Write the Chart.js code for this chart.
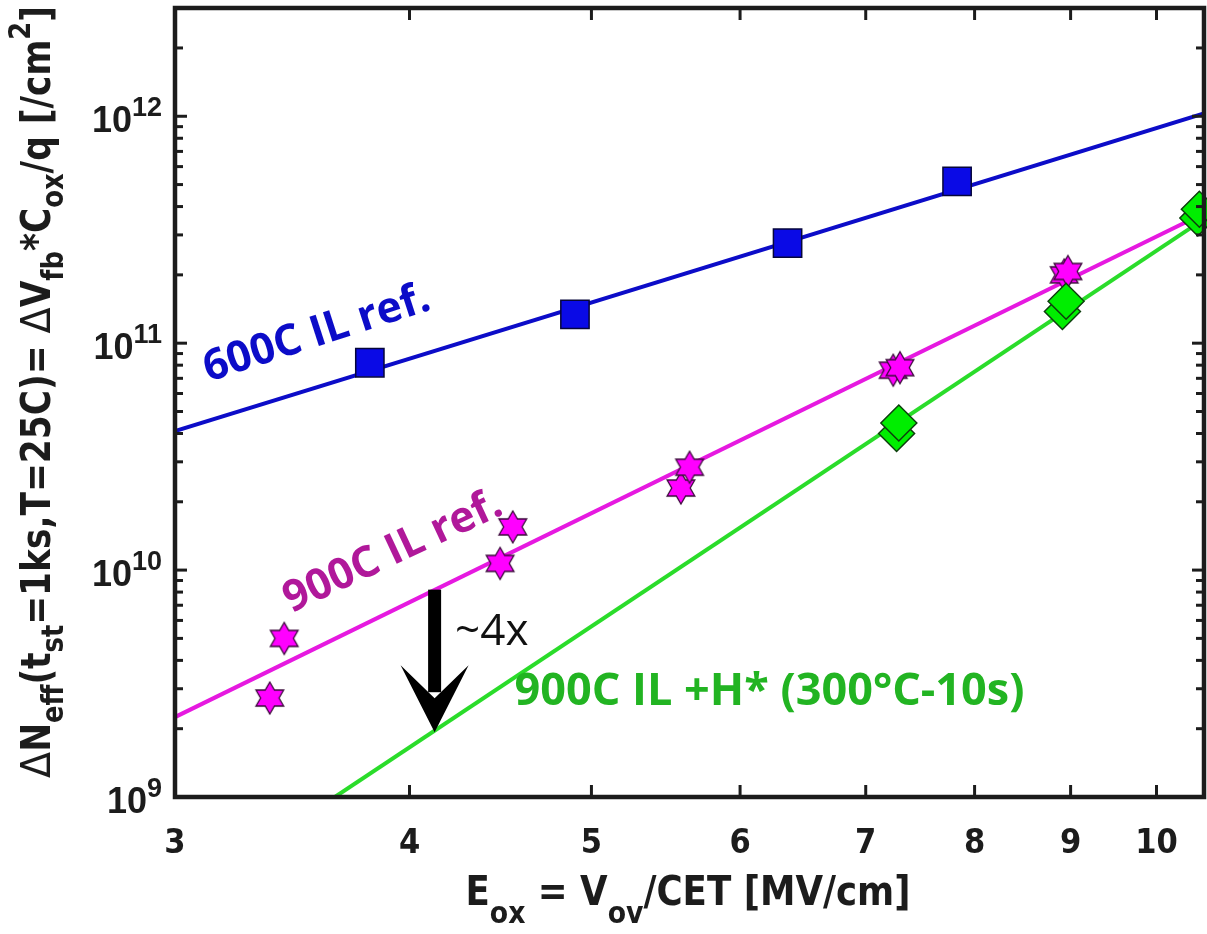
<!DOCTYPE html>
<html>
<head>
<meta charset="utf-8">
<script src="https://cdn.jsdelivr.net/npm/chart.js@4.4.1/dist/chart.umd.min.js"></script>
<style>
  html, body { margin: 0; padding: 0; background: #fff; overflow: hidden; }
  canvas { display: block; }
</style>
</head>
<body>
<canvas id="grafica" width="1207" height="934"></canvas>
<script>
// ejes
const xMin = 3, xMax = 10.6;
const yMin = 1e9, yMax = 3e12;
const xTicks = [3, 4, 5, 6, 7, 8, 9, 10];
const yDecadas = [1e9, 1e10, 1e11, 1e12];
const yExponentes = ["9", "10", "11", "12"];

// 600C IL ref. (cuadrados)
const ref600X = [3.81, 4.90, 6.36, 7.83];
const ref600Y = [8.2e10, 1.34e11, 2.76e11, 5.17e11];

// 900C IL ref. (estrellas)
const ref900X = [3.37, 3.43, 4.47, 4.54, 5.58, 5.64, 7.24, 7.30, 8.93, 8.97];
const ref900Y = [2.73e9, 5.0e9, 1.07e10, 1.55e10, 2.30e10, 2.84e10, 7.6e10, 7.8e10, 2.0e11, 2.07e11];

// 900C IL +H* (rombos)
const h900X = [7.27, 7.29, 8.91, 8.95, 10.52, 10.54];
const h900Y = [4.0e10, 4.45e10, 1.38e11, 1.53e11, 3.56e11, 3.89e11];

// rectas de ajuste
const ajuste600X = [3, 10.6];
const ajuste600Y = [4.1e10, 1.03e12];
const ajuste900X = [3, 10.6];
const ajuste900Y = [2.25e9, 3.74e11];
const ajusteH900X = [3.65, 10.6];
const ajusteH900Y = [1e9, 3.52e11];

function pares(xs, ys) {
  return xs.map((x, i) => ({ x: x, y: ys[i] }));
}

function hexagrama(R, relleno, borde) {
  const c = document.createElement("canvas");
  const s = Math.ceil(2 * R + 4);
  c.width = s;
  c.height = s;
  const g = c.getContext("2d");
  const r = R / Math.sqrt(3);
  g.beginPath();
  for (let i = 0; i < 12; i++) {
    const ang = -Math.PI / 2 + i * Math.PI / 6;
    const rr = i % 2 === 0 ? R : r;
    const px = s / 2 + rr * Math.cos(ang);
    const py = s / 2 + rr * Math.sin(ang);
    if (i === 0) g.moveTo(px, py); else g.lineTo(px, py);
  }
  g.closePath();
  g.fillStyle = relleno;
  g.fill();
  g.lineWidth = 1.3;
  g.strokeStyle = borde;
  g.stroke();
  return c;
}

const estrella = hexagrama(16, "#ff00ff", "#3a0a3a");

const fuenteEstrecha = "'Liberation Sans Narrow', 'DejaVu Sans Condensed', 'Liberation Sans', sans-serif";
const fuenteNotas = "'Open Sans', 'Noto Sans', sans-serif";

const anotaciones = [
  { texto: "600C IL ref.", x: 3.57, y: 1.1e11, angulo: -18, color: "#0c0cc8", font: "bold 43px " + fuenteNotas },
  { texto: "900C IL ref.", x: 3.92, y: 1.2e10, angulo: -25, color: "#b0189a", font: "bold 43px " + fuenteNotas },
  { texto: "900C IL +H* (300°C-10s)", x: 4.55, y: 2.9e9, angulo: 0, color: "#22b422", font: "bold 45px " + fuenteNotas, alinear: "left" },
  { texto: "~4x", x: 4.23, y: 5.33e9, angulo: 0, color: "#111", font: "44px " + fuenteNotas, alinear: "left" }
];

// texto con subíndices / superíndices
function textoRico(ctx, partes, x, y, alinear, angulo, ancho) {
  ctx.save();
  ctx.translate(x, y);
  ctx.rotate(angulo);
  let total = 0;
  partes.forEach(p => {
    ctx.font = p.font;
    p.w = ctx.measureText(p.t).width;
    total += p.w;
  });
  if (ancho) ctx.scale(ancho / total, 1);
  let cx = alinear === "center" ? -total / 2 : (alinear === "right" ? -total : 0);
  ctx.textAlign = "left";
  ctx.textBaseline = "alphabetic";
  partes.forEach(p => {
    ctx.font = p.font;
    ctx.fillStyle = p.color || "#1c1c1c";
    ctx.fillText(p.t, cx, p.dy || 0);
    cx += p.w;
  });
  ctx.restore();
}

const ejesPlugin = {
  id: "ejes",
  afterDatasetsDraw(chart) {
    const ctx = chart.ctx;
    const a = chart.chartArea;
    const xs = chart.scales.x;
    const ys = chart.scales.y;
    ctx.save();

    // flecha ~4x
    const fx = xs.getPixelForValue(4.125);
    const fy0 = ys.getPixelForValue(8.2e9);
    const fy1 = ys.getPixelForValue(1.93e9);
    ctx.fillStyle = "#000";
    ctx.fillRect(fx - 6.5, fy0, 13, fy1 - fy0 - 40);
    ctx.beginPath();
    ctx.moveTo(fx, fy1);
    ctx.lineTo(fx - 34, fy1 - 67);
    ctx.lineTo(fx, fy1 - 34);
    ctx.lineTo(fx + 34, fy1 - 67);
    ctx.closePath();
    ctx.fill();

    // marcas
    ctx.strokeStyle = "#1c1c1c";
    ctx.lineWidth = 3;
    function linea(x0, y0, x1, y1) {
      ctx.beginPath();
      ctx.moveTo(x0, y0);
      ctx.lineTo(x1, y1);
      ctx.stroke();
    }
    xTicks.forEach(v => {
      const px = xs.getPixelForValue(v);
      if (px <= a.left + 3 || px >= a.right - 3) return;
      linea(px, a.bottom, px, a.bottom - 12);
      linea(px, a.top, px, a.top + 12);
    });
    yDecadas.forEach(d => {
      for (let m = 1; m <= 9; m++) {
        const v = m * d;
        if (v > yMax) break;
        const py = ys.getPixelForValue(v);
        const len = m === 1 ? 12 : 8;
        if (py >= a.bottom - 2 || py <= a.top + 2) continue;
        linea(a.left, py, a.left + len, py);
        linea(a.right, py, a.right - len, py);
      }
    });

    // recuadro
    ctx.lineWidth = 4.5;
    ctx.strokeRect(a.left, a.top, a.right - a.left, a.bottom - a.top);

    // etiquetas eje x
    ctx.fillStyle = "#1c1c1c";
    ctx.font = "bold 34px " + fuenteEstrecha;
    ctx.textAlign = "center";
    ctx.textBaseline = "alphabetic";
    xTicks.forEach(v => {
      ctx.fillText(String(v), xs.getPixelForValue(v), 853);
    });

    // etiquetas eje y
    yDecadas.forEach((d, i) => {
      const py = ys.getPixelForValue(d);
      textoRico(ctx, [
        { t: "10", font: "bold 36px 'Liberation Sans', Arial, sans-serif" },
        { t: yExponentes[i], font: "bold 27px 'Liberation Sans', Arial, sans-serif", dy: -16 }
      ], 162, py + 16, "right", 0);
    });

    // títulos
    const g = "bold 40px " + fuenteEstrecha;
    const p = "bold 30px " + fuenteEstrecha;
    const sim = "40px 'DejaVu Sans', sans-serif";
    textoRico(ctx, [
      { t: "Δ", font: sim },
      { t: "N", font: g },
      { t: "eff", font: p, dy: 13 },
      { t: "(t", font: g },
      { t: "st", font: p, dy: 13 },
      { t: "=1ks,T=25C)= ", font: g },
      { t: "Δ", font: sim },
      { t: "V", font: g },
      { t: "fb", font: p, dy: 13 },
      { t: "*C", font: g },
      { t: "ox", font: p, dy: 13 },
      { t: "/q [/cm", font: g },
      { t: "2", font: p, dy: -20 },
      { t: "]", font: g }
    ], 50, 392, "center", -Math.PI / 2, 772);

    textoRico(ctx, [
      { t: "E", font: g },
      { t: "ox", font: p, dy: 18 },
      { t: " = V", font: g },
      { t: "ov", font: p, dy: 18 },
      { t: "/CET [MV/cm]", font: g }
    ], 688, 905, "center", 0, 445);

    // anotaciones
    anotaciones.forEach(n => {
      const px = xs.getPixelForValue(n.x);
      const py = ys.getPixelForValue(n.y);
      ctx.save();
      ctx.translate(px, py);
      ctx.rotate(n.angulo * Math.PI / 180);
      ctx.font = n.font;
      ctx.fillStyle = n.color;
      ctx.textAlign = n.alinear || "center";
      ctx.textBaseline = "middle";
      ctx.fillText(n.texto, 0, 0);
      ctx.restore();
    });

    ctx.restore();
  }
};

const grafica = new Chart(document.getElementById("grafica"), {
  type: "scatter",
  data: {
    datasets: [
      {
        label: "600C IL ref.",
        data: pares(ref600X, ref600Y),
        pointStyle: "rect",
        pointRadius: 20,
        backgroundColor: "#0a0ae6",
        borderColor: "#06063a",
        borderWidth: 1.5,
        clip: false,
        order: 1
      },
      {
        label: "900C IL +H*",
        data: pares(h900X, h900Y),
        pointStyle: "rectRot",
        pointRadius: 18,
        backgroundColor: "#00ee00",
        borderColor: "#0d3d0d",
        borderWidth: 1.5,
        clip: false,
        order: 2
      },
      {
        label: "900C IL ref.",
        data: pares(ref900X, ref900Y),
        pointStyle: estrella,
        pointRadius: 16,
        clip: false,
        order: 3
      },
      {
        label: "ajuste 600C",
        data: pares(ajuste600X, ajuste600Y),
        showLine: true,
        pointRadius: 0,
        borderColor: "#0c0cc8",
        borderWidth: 4,
        clip: 0,
        order: 10
      },
      {
        label: "ajuste 900C",
        data: pares(ajuste900X, ajuste900Y),
        showLine: true,
        pointRadius: 0,
        borderColor: "#e619e0",
        borderWidth: 4,
        clip: 0,
        order: 11
      },
      {
        label: "ajuste 900C +H*",
        data: pares(ajusteH900X, ajusteH900Y),
        showLine: true,
        pointRadius: 0,
        borderColor: "#2adc2a",
        borderWidth: 4,
        clip: 0,
        order: 12
      }
    ]
  },
  options: {
    responsive: false,
    animation: false,
    layout: { autoPadding: false, padding: { left: 175, right: 3, top: 8, bottom: 137 } },
    plugins: { legend: { display: false }, tooltip: { enabled: false } },
    scales: {
      x: { type: "logarithmic", min: xMin, max: xMax, display: false },
      y: { type: "logarithmic", min: yMin, max: yMax, display: false }
    }
  },
  plugins: [ejesPlugin]
});
</script>
</body>
</html>
